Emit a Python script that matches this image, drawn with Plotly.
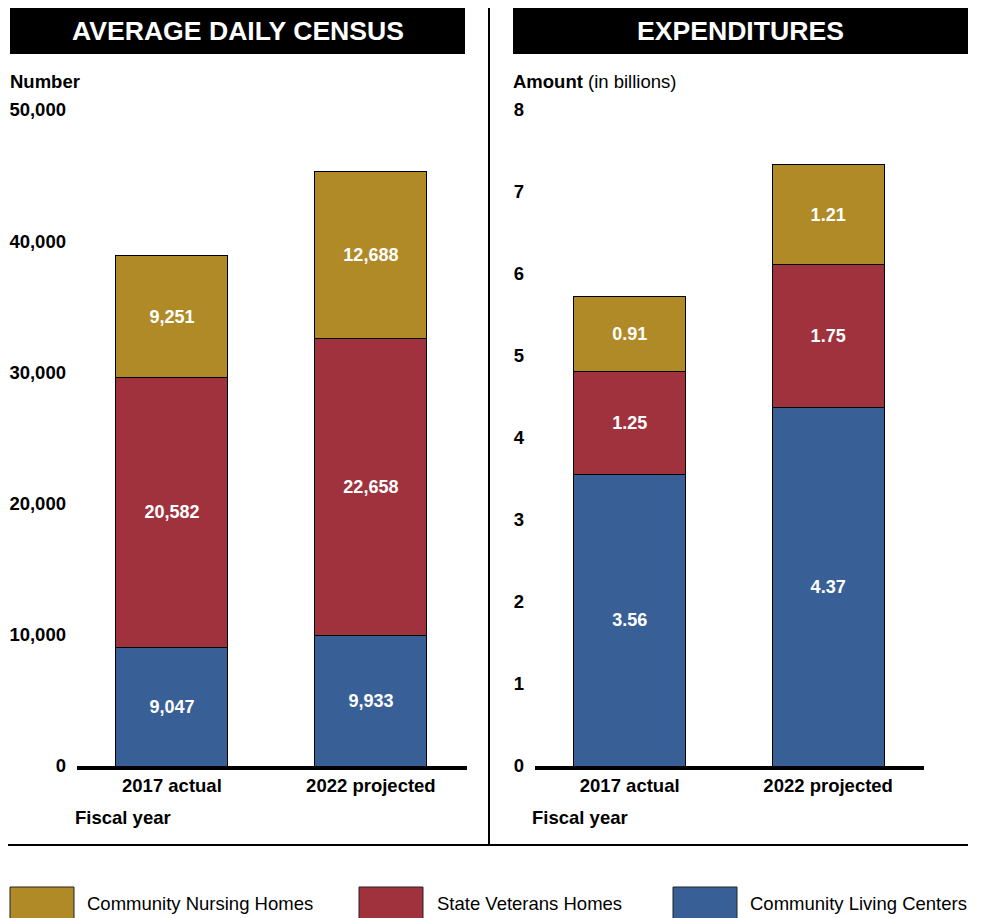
import plotly.graph_objects as go

W, H = 983, 918
OFF = 8  # page body margin of the rendered html

categories = ["2017 actual", "2022 projected"]
series_names = ["Community Nursing Homes", "State Veterans Homes", "Community Living Centers"]
colors = ["#B08A27", "#A0323E", "#386097"]

census_clc = [9047, 9933]
census_svh = [20582, 22658]
census_cnh = [9251, 12688]

exp_clc = [3.56, 4.37]
exp_svh = [1.25, 1.75]
exp_cnh = [0.91, 1.21]

census_ticks = [0, 10000, 20000, 30000, 40000, 50000]
exp_ticks = [0, 1, 2, 3, 4, 5, 6, 7, 8]

FONT = "Liberation Sans, Arial, sans-serif"


def px(x):
    return (x - OFF) / W


def py(y):
    return 1 - (y - OFF) / H


fig = go.Figure()

census_series = [census_cnh, census_svh, census_clc]
exp_series = [exp_cnh, exp_svh, exp_clc]
bar_font = dict(color="white", size=18, family=FONT, weight="bold")

# stack from bottom: CLC, SVH, CNH
for idx in [2, 1, 0]:
    fig.add_trace(go.Bar(
        x=categories, y=census_series[idx], name=series_names[idx],
        marker=dict(color=colors[idx], line=dict(color="black", width=1)),
        width=0.563, text=[f"{v:,}" for v in census_series[idx]],
        texttemplate="%{text}", textposition="inside", insidetextanchor="middle",
        textangle=0, textfont=bar_font,
        xaxis="x", yaxis="y", showlegend=False, hoverinfo="skip"))
for idx in [2, 1, 0]:
    fig.add_trace(go.Bar(
        x=categories, y=exp_series[idx], name=series_names[idx],
        marker=dict(color=colors[idx], line=dict(color="black", width=1)),
        width=0.563, text=[f"{v:.2f}" for v in exp_series[idx]],
        texttemplate="%{text}", textposition="inside", insidetextanchor="middle",
        textangle=0, textfont=bar_font,
        xaxis="x2", yaxis="y2", showlegend=False, hoverinfo="skip"))

ydom = [py(766), py(110)]
tick_font = dict(size=18.5, family=FONT, weight="bold", color="black")
common = dict(showgrid=False, zeroline=False, automargin=False, ticks="")
xrng = [-0.477, 1.483]
fig.update_layout(
    width=W, height=H, margin=dict(l=0, r=0, t=0, b=0, autoexpand=False),
    paper_bgcolor="white", plot_bgcolor="white", barmode="stack",
    font=dict(family=FONT, color="black"),
    xaxis=dict(domain=[px(77), px(467)], anchor="y", range=xrng,
               showline=True, linewidth=4, linecolor="black",
               tickfont=tick_font, ticklabelstandoff=0, **common),
    yaxis=dict(domain=ydom, anchor="x", range=[0, 50000], tickvals=census_ticks,
               tickformat=",", showline=False,
               tickfont=tick_font, ticklabelstandoff=10, **common),
    xaxis2=dict(domain=[px(535), px(924)], anchor="y2", range=xrng,
                showline=True, linewidth=4, linecolor="black",
                tickfont=tick_font, ticklabelstandoff=0, **common),
    yaxis2=dict(domain=ydom, anchor="x2", range=[0, 8], tickvals=exp_ticks,
                showline=False,
                tickfont=tick_font, ticklabelstandoff=10, **common),
)

shapes = []
annotations = []


def note(x, y, text, size=18.5, anchor="left", color="black", bold=False):
    return dict(xref="paper", yref="paper", x=px(x), y=py(y), text=text,
                showarrow=False, xanchor=anchor, yanchor="middle",
                borderpad=0, borderwidth=0,
                font=dict(size=size, color=color, family=FONT,
                          weight="bold" if bold else "normal"))


# title bars
for (x0, x1, title) in [(10, 465, "AVERAGE DAILY CENSUS"), (513, 968, "EXPENDITURES")]:
    shapes.append(dict(type="rect", xref="paper", yref="paper", x0=px(x0), x1=px(x1),
                       y0=py(54), y1=py(8), fillcolor="black", line=dict(width=0), layer="below"))
    annotations.append(note((x0 + x1) / 2, 31, title, size=26.6, anchor="center",
                            color="white", bold=True))

# divider lines
shapes.append(dict(type="line", xref="paper", yref="paper", x0=px(489), x1=px(489),
                   y0=py(845), y1=py(8), line=dict(color="black", width=2)))
shapes.append(dict(type="line", xref="paper", yref="paper", x0=px(8), x1=px(968),
                   y0=py(845), y1=py(845), line=dict(color="black", width=2)))

# axis titles
annotations.append(note(10, 82, "<b>Number</b>"))
annotations.append(note(513, 82, "<b>Amount</b> (in billions)"))
for xx in [75, 532]:
    annotations.append(note(xx, 817, "<b>Fiscal year</b>"))

# legend
legend_pos = [(10, 74, 87), (359, 423, 437), (673, 737, 750)]
for (sx0, sx1, tx), name, col in zip(legend_pos, series_names, colors):
    shapes.append(dict(type="rect", xref="paper", yref="paper", x0=px(sx0), x1=px(sx1),
                       y0=py(930), y1=py(887), fillcolor=col, line=dict(color="#222222", width=1)))
    annotations.append(note(tx, 903, name))

fig.update_layout(shapes=shapes, annotations=annotations)
fig.write_html("out.html")
